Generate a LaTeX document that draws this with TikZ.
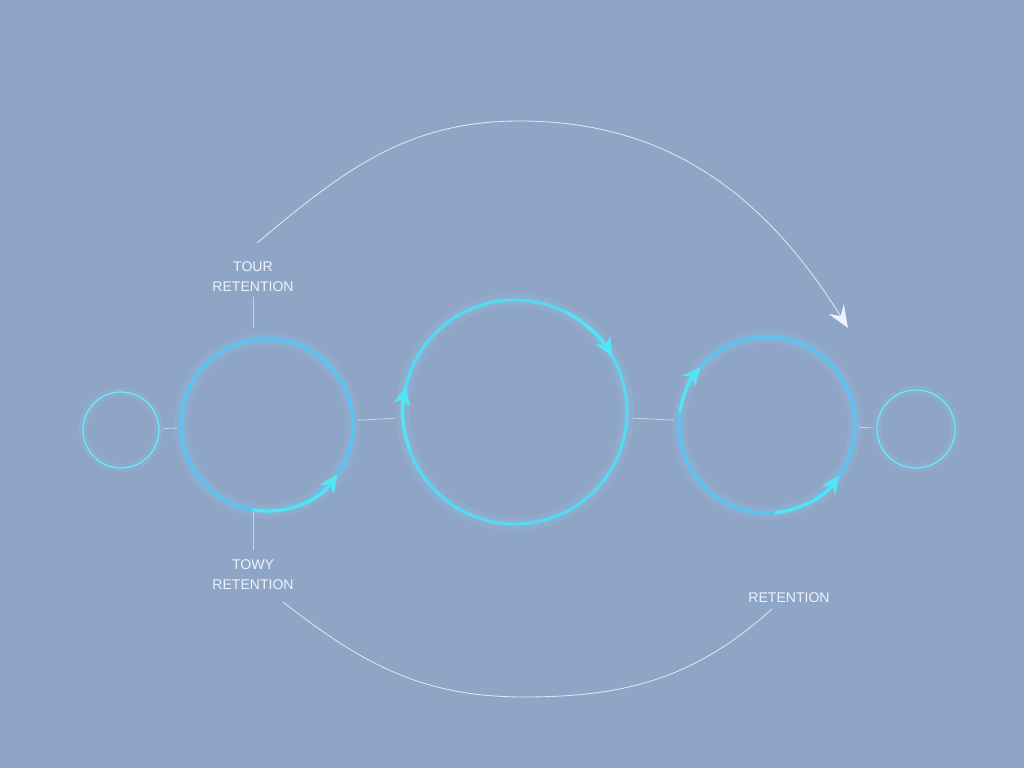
\documentclass[tikz,border=0pt]{standalone}
\usepackage{fontspec}
\setmainfont{Liberation Sans}
\usetikzlibrary{arrows.meta}

\definecolor{bgc}{RGB}{143,165,198}
\definecolor{ringc}{RGB}{84,198,245}
\definecolor{tipc}{RGB}{82,230,244}
\definecolor{linec}{RGB}{236,243,252}

\tikzset{
  ring/.style={circle, draw=ringc, line width=1.9pt, inner sep=0pt, outer sep=0pt,
    preaction={draw=ringc!60!white, line width=10pt, draw opacity=0.10},
    preaction={draw=ringc!80!white, line width=5pt, draw opacity=0.20}},
  smallring/.style={circle, draw=tipc!80!white, line width=0.8pt, inner sep=0pt, outer sep=0pt,
    preaction={draw=ringc!60!white, line width=6pt, draw opacity=0.12},
    preaction={draw=ringc, line width=2.5pt, draw opacity=0.22}},
  flow/.style={draw=tipc, line width=2.2pt, -{Stealth[length=13pt,width=12pt,inset=4pt]}},
  link/.style={draw=linec, draw opacity=0.6, line width=0.6pt, shorten <=3pt, shorten >=3pt},
  arcline/.style={draw=linec, draw opacity=0.85, line width=0.6pt},
  lbl/.style={text=linec, font=\fontsize{10}{14}\selectfont, align=center}
}

\begin{document}
\begin{tikzpicture}
    \fill[bgc] (0,0) rectangle (25.6,19.2);

    \node[smallring, minimum size=1.9cm] (c0) at (3.025,8.45) {};
    \node[ring, minimum size=4.3cm] (c1) at (6.675,8.575) {};
    \node[ring, draw=tipc!70!ringc, minimum size=5.6cm] (c2) at (12.875,8.9) {};
    \node[ring, minimum size=4.4cm] (c3) at (19.175,8.575) {};
    \node[smallring, minimum size=1.95cm] (c4) at (22.9,8.475) {};

    \node[lbl] (tour) at (6.325,12.275) {TOUR\\RETENTION};
    \node[lbl] (towy) at (6.325,4.825) {TOWY\\RETENTION};
    \node[lbl] (ret) at (19.725,4.25) {RETENTION};

    \draw[link] (c0) -- (c1);
    \draw[link, shorten >=6pt] (c1) -- (c2);
    \draw[link, shorten <=4pt, shorten >=4pt] (c2) -- (c3);
    \draw[link] (c3) -- (c4);

    \draw[link, shorten <=0pt, shorten >=8pt] (tour.south) -- (tour.south |- c1.north);
    \draw[link, shorten <=1pt, shorten >=4pt] (c1.south -| towy.north) -- (towy.north);

    \draw[flow] ([shift={(-100:2.15)}]c1.center) arc[start angle=-100, end angle=-35, radius=2.15];
    \draw[flow] ([shift={(62:2.8)}]c2.center) arc[start angle=62, end angle=30, radius=2.8];
    \draw[flow] ([shift={(200:2.8)}]c2.center) arc[start angle=200, end angle=167, radius=2.8];
    \draw[flow] ([shift={(172:2.2)}]c3.center) arc[start angle=172, end angle=139, radius=2.2];
    \draw[flow] ([shift={(-85:2.2)}]c3.center) arc[start angle=-85, end angle=-35, radius=2.2];

    \coordinate (ts) at (6.425,13.125);
    \coordinate (tp) at (13.0,16.175);
    \coordinate (te) at (21.2,11.0);
    \draw[arcline, -{Stealth[length=16pt,width=13pt,inset=6pt,fill=linec]}] (ts) to[out=40,in=180] (tp) to[out=0,in=122] (te);

    \coordinate (bs) at (7.075,4.15);
    \coordinate (bp) at (13.1,1.775);
    \coordinate (be) at (19.3,3.975);
    \draw[arcline] (bs) to[out=-38,in=180] (bp) to[out=0,in=-138] (be);
\end{tikzpicture}
\end{document}
